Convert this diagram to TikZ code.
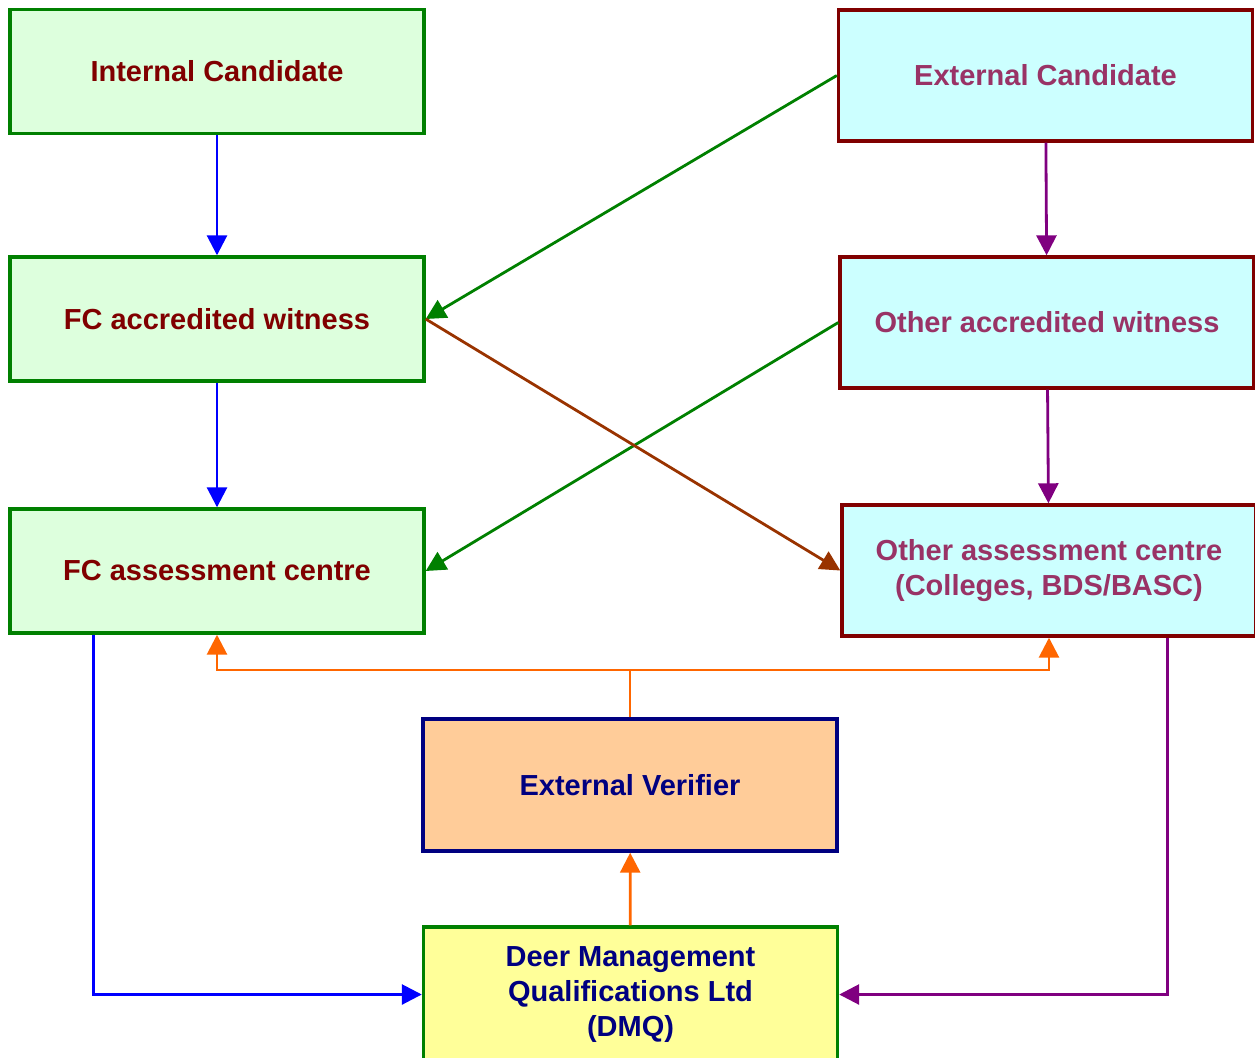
\documentclass[tikz,border=0pt]{standalone}
\usepackage{fontspec}
\setmainfont{Liberation Sans}
\usepackage{tikz}
\usetikzlibrary{arrows.meta}

\definecolor{fcfill}{RGB}{221,255,221}
\definecolor{fcline}{RGB}{0,128,0}
\definecolor{fctext}{RGB}{128,0,0}
\definecolor{otfill}{RGB}{204,255,255}
\definecolor{ottext}{RGB}{153,51,102}
\definecolor{evfill}{RGB}{255,204,153}
\definecolor{evline}{RGB}{0,0,128}
\definecolor{dmqfill}{RGB}{255,255,153}
\definecolor{linkorange}{RGB}{255,102,0}
\definecolor{linkbrown}{RGB}{153,51,0}
\definecolor{linkpurple}{RGB}{128,0,128}

\begin{document}
\begin{tikzpicture}[x=0.5pt,y=-0.5pt,
    box/.style={rectangle,line width=1.7pt,align=center,inner sep=0pt,
      minimum width=207pt,minimum height=62pt,
      font=\fontsize{14.5}{17.5}\selectfont\bfseries},
    fcbox/.style={box,fill=fcfill,draw=fcline,text=fctext},
    otherbox/.style={box,fill=otfill,draw=fctext,text=ottext,minimum height=65.5pt},
    link/.style={line width=1.4pt,-{Triangle[length=10pt,width=10pt]}}]

      \useasboundingbox (0,0) rectangle (1255,1057);

      % left column
      \node[fcbox] (intc) at (217,71.5) {Internal Candidate};
      \node[fcbox] (fcw)  at (217,319)  {FC accredited witness};
      \node[fcbox] (fcac) at (217,571)  {FC assessment centre};

      % right column
      \node[otherbox] (extc) at (1045.5,75.5) {External Candidate};
      \node[otherbox] (oaw)  at (1047,322.5)  {Other accredited witness};
      \node[otherbox] (oac)  at (1049,570.5)  {Other assessment centre\\(Colleges, BDS/BASC)};

      % middle
      \node[box,fill=evfill,draw=evline,text=evline,minimum height=66pt]
        (ev) at (630,785) {External Verifier};
      \node[box,fill=dmqfill,draw=fcline,text=evline,minimum height=67.5pt]
        (dmq) at (630.5,994.5) {Deer Management\\Qualifications Ltd\\(DMQ)};

      \coordinate (evjoin) at (630,670);

      \draw[link,blue] (intc) -- (fcw);
      \draw[link,blue] (fcw) -- (fcac);
      \draw[link,linkpurple] (extc) -- (oaw);
      \draw[link,linkpurple] (oaw) -- (oac);

      \draw[link,fcline] (extc.west) -- (fcw.east);
      \draw[link,fcline] (oaw.west) -- (fcac.east);
      \draw[link,linkbrown] (fcw.east) -- (oac.west);

      \draw[line width=1.4pt,linkorange] (ev) -- (evjoin);
      \draw[link,linkorange] (evjoin) -| (fcac);
      \draw[link,linkorange] (evjoin) -| (oac);
      \draw[link,linkorange] (dmq) -- (ev);

      \draw[link,blue] (fcac.south west) ++(85,0) |- (dmq);
      \draw[link,linkpurple] (oac.south west) ++(327,0) |- (dmq);
    \end{tikzpicture}
\end{document}
